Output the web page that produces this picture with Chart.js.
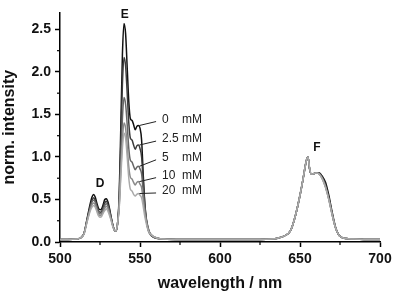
<!DOCTYPE html>
<html>
<head>
<meta charset="utf-8">
<script src="https://cdn.jsdelivr.net/npm/chart.js@4.4.1/dist/chart.umd.min.js"></script>
<style>
  html, body { margin: 0; padding: 0; background: #fff; }
  #wrap { width: 396px; height: 293px; }
</style>
</head>
<body>
<div id="wrap"><canvas id="spec"></canvas></div>
<script>
// wavelength grid (nm)
const wavelengths = [500, 505, 510, 513, 515, 517, 519, 520, 521, 522, 523, 524, 525, 526, 527, 528, 529, 530, 531, 532, 533, 534, 535,
  536, 537, 538, 539, 540, 541, 542, 543, 544, 545, 546, 547, 548, 549, 550, 551, 552, 553, 554, 555, 556, 558,
  561, 565, 575, 600, 625, 632, 636, 640, 644, 647, 650, 652, 654, 655, 656, 657, 658, 660, 662, 664, 666, 668, 670, 672, 674, 676, 679, 683, 690, 700];

// normalized intensities
const int0mM = [0.03, 0.03, 0.035, 0.05,
  0.10, 0.28, 0.46, 0.53, 0.56, 0.53, 0.46, 0.40, 0.38, 0.39, 0.44, 0.50, 0.51, 0.47, 0.39, 0.29, 0.20, 0.14, 0.13,
  0.22, 0.55, 1.35, 2.2, 2.57, 2.45, 2.05, 1.65, 1.45, 1.43, 1.38, 1.32, 1.36, 1.37, 1.34, 1.2, 0.8, 0.45, 0.25, 0.15, 0.1, 0.06,
  0.04, 0.035, 0.03, 0.03, 0.03, 0.035, 0.045, 0.07, 0.13, 0.3, 0.55, 0.75, 0.96, 1.0, 0.86, 0.8, 0.8, 0.81, 0.81, 0.77, 0.70, 0.55, 0.36, 0.19, 0.09, 0.055, 0.04, 0.035, 0.03, 0.03];
const int2p5mM = [0.03, 0.03, 0.035, 0.05,
  0.10, 0.27, 0.43, 0.49, 0.52, 0.49, 0.43, 0.37, 0.35, 0.36, 0.41, 0.46, 0.48, 0.44, 0.37, 0.28, 0.20, 0.14, 0.13,
  0.22, 0.5, 1.15, 1.85, 2.17, 2.07, 1.75, 1.4, 1.22, 1.2, 1.14, 1.09, 1.13, 1.14, 1.1, 1.0, 0.72, 0.45, 0.27, 0.17, 0.11, 0.065,
  0.045, 0.035, 0.03, 0.03, 0.03, 0.035, 0.045, 0.07, 0.13, 0.3, 0.55, 0.75, 0.96, 1.0, 0.86, 0.8, 0.8, 0.81, 0.81, 0.76, 0.67, 0.52, 0.34, 0.18, 0.09, 0.055, 0.04, 0.035, 0.03, 0.03];
const int5mM = [0.03, 0.03, 0.035, 0.05,
  0.10, 0.26, 0.41, 0.47, 0.49, 0.47, 0.41, 0.35, 0.33, 0.34, 0.38, 0.43, 0.45, 0.42, 0.35, 0.27, 0.19, 0.14, 0.13,
  0.22, 0.45, 0.95, 1.45, 1.70, 1.62, 1.38, 1.1, 0.96, 0.94, 0.89, 0.85, 0.88, 0.89, 0.86, 0.8, 0.6, 0.4, 0.26, 0.17, 0.11, 0.07,
  0.045, 0.035, 0.03, 0.03, 0.03, 0.035, 0.045, 0.07, 0.13, 0.3, 0.55, 0.75, 0.96, 1.0, 0.86, 0.8, 0.8, 0.81, 0.80, 0.75, 0.65, 0.51, 0.33, 0.18, 0.09, 0.055, 0.04, 0.035, 0.03, 0.03];
const int10mM = [0.03, 0.03, 0.035, 0.05,
  0.10, 0.25, 0.39, 0.44, 0.46, 0.44, 0.38, 0.33, 0.31, 0.32, 0.36, 0.40, 0.42, 0.39, 0.33, 0.26, 0.19, 0.14, 0.13,
  0.22, 0.42, 0.82, 1.2, 1.40, 1.34, 1.12, 0.88, 0.76, 0.74, 0.7, 0.67, 0.7, 0.71, 0.68, 0.64, 0.5, 0.35, 0.24, 0.16, 0.11, 0.07,
  0.045, 0.035, 0.03, 0.03, 0.03, 0.035, 0.045, 0.07, 0.13, 0.3, 0.55, 0.75, 0.96, 1.0, 0.86, 0.8, 0.8, 0.81, 0.80, 0.74, 0.64, 0.50, 0.33, 0.18, 0.09, 0.055, 0.04, 0.035, 0.03, 0.03];
const int20mM = [0.03, 0.03, 0.035, 0.05,
  0.09, 0.24, 0.37, 0.41, 0.43, 0.41, 0.36, 0.31, 0.29, 0.30, 0.34, 0.37, 0.39, 0.36, 0.31, 0.25, 0.18, 0.14, 0.13,
  0.22, 0.40, 0.76, 1.1, 1.28, 1.22, 1.0, 0.75, 0.62, 0.6, 0.56, 0.54, 0.56, 0.57, 0.55, 0.52, 0.42, 0.3, 0.21, 0.14, 0.1, 0.07,
  0.045, 0.035, 0.03, 0.03, 0.03, 0.035, 0.045, 0.07, 0.13, 0.3, 0.55, 0.75, 0.96, 1.0, 0.87, 0.8, 0.8, 0.81, 0.80, 0.74, 0.64, 0.50, 0.33, 0.18, 0.09, 0.055, 0.04, 0.035, 0.03, 0.03];

const concLabels = ["0", "2.5", "5", "10", "20"];
const concLabelY = [1.44, 1.21, 0.99, 0.78, 0.60];   // intensity units
const concLabelX = 563.8;                            // nm
const leaderNm = 549;

const peakNames = ["D", "E", "F"];
const peakX = [525, 540.5, 660.5];
const peakY = [0.68, 2.67, 1.11];

const xTicks = [500, 550, 600, 650, 700];

const FONT = '"Liberation Sans", Arial, sans-serif';
const series = [
  { label: "0 mM", data: int0mM, color: "#111111" },
  { label: "2.5 mM", data: int2p5mM, color: "#3c3c3c" },
  { label: "5 mM", data: int5mM, color: "#676767" },
  { label: "10 mM", data: int10mM, color: "#8a8a8a" },
  { label: "20 mM", data: int20mM, color: "#aaaaaa" },
];

function pts(arr) {
  return wavelengths.map((w, i) => ({ x: w, y: arr[i] }));
}

// minor ticks, peak letters and concentration labels
const extras = {
  id: "extras",
  afterDraw(chart) {
    const ctx = chart.ctx;
    const xs = chart.scales.x, ys = chart.scales.y;
    const bottom = ys.getPixelForValue(0);
    const left = xs.getPixelForValue(500);
    ctx.save();
    ctx.strokeStyle = "#000";
    ctx.lineWidth = 1.2;
    for (let i = 0; i < xTicks.length - 1; i++) {
      const px = xs.getPixelForValue((xTicks[i] + xTicks[i + 1]) / 2);
      ctx.beginPath(); ctx.moveTo(px, bottom); ctx.lineTo(px, bottom + 3); ctx.stroke();
    }
    for (let v = 0.25; v < 2.7; v += 0.5) {
      const py = ys.getPixelForValue(v);
      ctx.beginPath(); ctx.moveTo(left, py); ctx.lineTo(left - 3, py); ctx.stroke();
    }

    ctx.fillStyle = "#111";
    ctx.font = "bold 12px " + FONT;
    ctx.textAlign = "center";
    ctx.textBaseline = "middle";
    peakNames.forEach((n, i) => {
      ctx.fillText(n, xs.getPixelForValue(peakX[i]), ys.getPixelForValue(peakY[i]));
    });

    ctx.font = "12px " + FONT;
    ctx.textAlign = "left";
    const tx = xs.getPixelForValue(concLabelX);
    const li = wavelengths.indexOf(leaderNm);
    concLabels.forEach((c, i) => {
      const ty = ys.getPixelForValue(concLabelY[i]);
      ctx.fillStyle = "#222";
      ctx.fillText(c, tx, ty);
      ctx.fillText("mM", tx + 20, ty);
      ctx.strokeStyle = "#222";
      ctx.lineWidth = 1;
      ctx.beginPath();
      ctx.moveTo(tx - 6, ty + 2);
      ctx.lineTo(xs.getPixelForValue(leaderNm) + 1, ys.getPixelForValue(series[i].data[li]));
      ctx.stroke();
    });
    ctx.restore();
  }
};

new Chart(document.getElementById("spec"), {
  type: "line",
  data: {
    datasets: series.slice().reverse().map((s) => ({
      label: s.label,
      data: pts(s.data),
      borderColor: s.color,
      borderWidth: 1.5,
      pointRadius: 0,
      fill: false,
      cubicInterpolationMode: "monotone",
    })),
  },
  options: {
    responsive: true,
    maintainAspectRatio: false,
    animation: false,
    layout: { padding: { top: 4, right: 16, left: 0, bottom: 0 } },
    plugins: { legend: { display: false }, tooltip: { enabled: false } },
    scales: {
      x: {
        type: "linear",
        min: 500,
        max: 700,
        afterBuildTicks: (s) => { s.ticks = xTicks.map((v) => ({ value: v })); },
        afterFit: (s) => { s.height = 51; },
        border: { color: "#000", width: 1.5 },
        grid: { drawOnChartArea: false, tickLength: 5, tickColor: "#000", tickWidth: 1.5 },
        ticks: { color: "#111", padding: 4, font: { family: FONT, size: 14, weight: "bold" }, maxRotation: 0 },
        title: { display: true, text: "wavelength / nm", color: "#111", padding: { top: 0, bottom: 0 },
          font: { family: FONT, size: 16, weight: "bold" } },
      },
      y: {
        min: 0,
        max: 2.7,
        ticks: { stepSize: 0.5, includeBounds: false, color: "#111", padding: 4,
          font: { family: FONT, size: 14, weight: "bold" },
          callback: (v) => v.toFixed(1) },
        afterFit: (s) => { s.width = 60; },
        border: { color: "#000", width: 1.5 },
        grid: { drawOnChartArea: false, tickLength: 5, tickColor: "#000", tickWidth: 1.5 },
        title: { display: true, text: "norm. intensity", color: "#111", padding: { top: 0, bottom: 6 },
          font: { family: FONT, size: 16, weight: "bold" } },
      },
    },
  },
  plugins: [extras],
});
</script>
</body>
</html>
